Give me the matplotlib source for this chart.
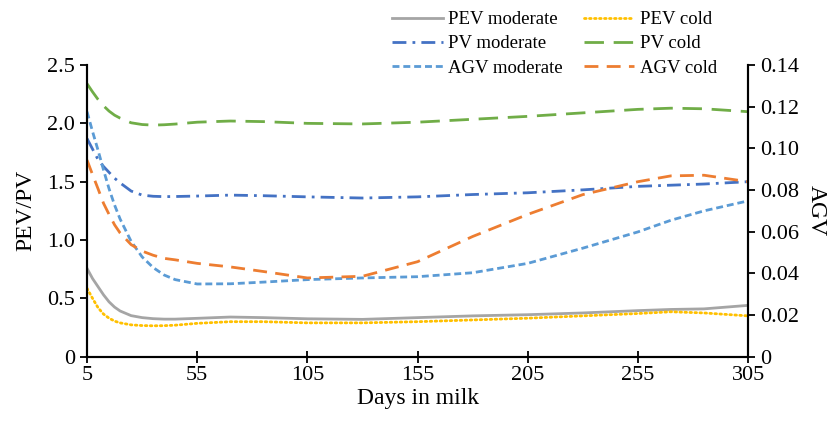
import matplotlib
matplotlib.use("Agg")
import matplotlib.pyplot as plt

plt.rcParams["font.family"] = ["Liberation Serif", "DejaVu Serif"]

days = [5, 7.5, 10, 12.5, 15, 17.5, 20, 25, 30, 35, 40, 45, 55, 70, 85, 105,
        130, 155, 180, 205, 230, 255, 270, 285, 305]

pev_moderate = [0.757, 0.67, 0.60, 0.53, 0.47, 0.425, 0.392, 0.352, 0.335,
                0.326, 0.322, 0.322, 0.329, 0.34, 0.335, 0.325, 0.32, 0.335,
                0.35, 0.36, 0.375, 0.395, 0.405, 0.41, 0.44]
pev_cold = [0.586, 0.50, 0.42, 0.365, 0.33, 0.305, 0.29, 0.273, 0.267, 0.265,
            0.266, 0.27, 0.286, 0.30, 0.30, 0.29, 0.29, 0.30, 0.315, 0.33,
            0.35, 0.37, 0.385, 0.375, 0.35]
pv_moderate = [1.87, 1.78, 1.69, 1.63, 1.58, 1.53, 1.49, 1.42, 1.385, 1.375,
               1.372, 1.373, 1.377, 1.385, 1.38, 1.37, 1.36, 1.37, 1.39, 1.405,
               1.43, 1.46, 1.47, 1.48, 1.50]
pv_cold = [2.34, 2.27, 2.205, 2.15, 2.105, 2.07, 2.045, 2.005, 1.99, 1.985,
           1.988, 1.994, 2.01, 2.02, 2.015, 2.00, 1.995, 2.01, 2.035, 2.06,
           2.09, 2.12, 2.13, 2.125, 2.10]
agv_moderate = [0.1176, 0.1081, 0.0991, 0.0896, 0.0806, 0.0728, 0.0661,
                0.0554, 0.0479, 0.0428, 0.0392, 0.0370, 0.0349, 0.0350,
                0.0358, 0.0370, 0.0378, 0.0384, 0.0403, 0.0448, 0.0521,
                0.0599, 0.0655, 0.0700, 0.0748]
agv_cold = [0.0944, 0.0874, 0.0806, 0.0736, 0.0683, 0.0633, 0.0594, 0.0538,
            0.0507, 0.0487, 0.0472, 0.0465, 0.0448, 0.0431, 0.0409, 0.0378,
            0.0386, 0.0456, 0.0577, 0.0683, 0.0778, 0.0840, 0.0868, 0.0871,
            0.0840]

x_ticks = [5, 55, 105, 155, 205, 255, 305]
left_ticks = [0, 0.5, 1.0, 1.5, 2.0, 2.5]
left_labels = ["0", "0.5", "1.0", "1.5", "2.0", "2.5"]
right_ticks = [0, 0.02, 0.04, 0.06, 0.08, 0.10, 0.12, 0.14]
right_labels = ["0", "0.02", "0.04", "0.06", "0.08", "0.10", "0.12", "0.14"]

fig = plt.figure(figsize=(8.4, 4.25), dpi=100)
ax = fig.add_axes([0.1036, 0.1607, 0.787, 0.6863])
ax2 = ax.twinx()

lw = 2.0
l1, = ax.plot(days, pev_moderate, color="#a5a5a5", lw=lw, label="PEV moderate")
l2, = ax.plot(days, pev_cold, color="#ffc000", lw=lw, dashes=(0.6, 1.2),
              dash_capstyle="round", label="PEV cold")
l3, = ax.plot(days, pv_moderate, color="#4472c4", lw=lw,
              dashes=(5, 2.2, 1, 2.2), label="PV moderate")
l4, = ax.plot(days, pv_cold, color="#70ad47", lw=lw, dashes=(7, 3.5),
              label="PV cold")
l5, = ax2.plot(days, agv_moderate, color="#5b9bd5", lw=lw, dashes=(2.5, 1.4),
               label="AGV moderate")
l6, = ax2.plot(days, agv_cold, color="#ed7d31", lw=lw, dashes=(5, 3),
               label="AGV cold")

ax.set_xlim(5, 305)
ax.set_ylim(0, 2.5)
ax2.set_ylim(0, 0.14)
ax.set_xticks(x_ticks)
ax.set_yticks(left_ticks)
ax.set_yticklabels(left_labels)
ax2.set_yticks(right_ticks)
ax2.set_yticklabels(right_labels)

for a in (ax, ax2):
    a.spines["top"].set_visible(False)
    for s in ("left", "right", "bottom"):
        a.spines[s].set_linewidth(1.5)
    a.tick_params(labelsize=16, width=1.3, length=5)
ax.tick_params(axis="x", direction="inout", length=8, pad=3)

ax.set_xlabel("Days in milk", fontsize=17, labelpad=2)
ax.set_ylabel("PEV/PV", fontsize=17, labelpad=8)
ax2.set_ylabel("AGV", fontsize=17, rotation=270, labelpad=20)

fig.legend(handles=[l1, l3, l5, l2, l4, l6], ncol=2, loc="upper left",
           bbox_to_anchor=(392 / 840, 1 - 11 / 425), frameon=False,
           fontsize=13.5, handlelength=2.7, handletextpad=0.3,
           columnspacing=1.1, labelspacing=0.38, borderpad=0,
           borderaxespad=0)

fig.savefig("out.png", dpi=100)
